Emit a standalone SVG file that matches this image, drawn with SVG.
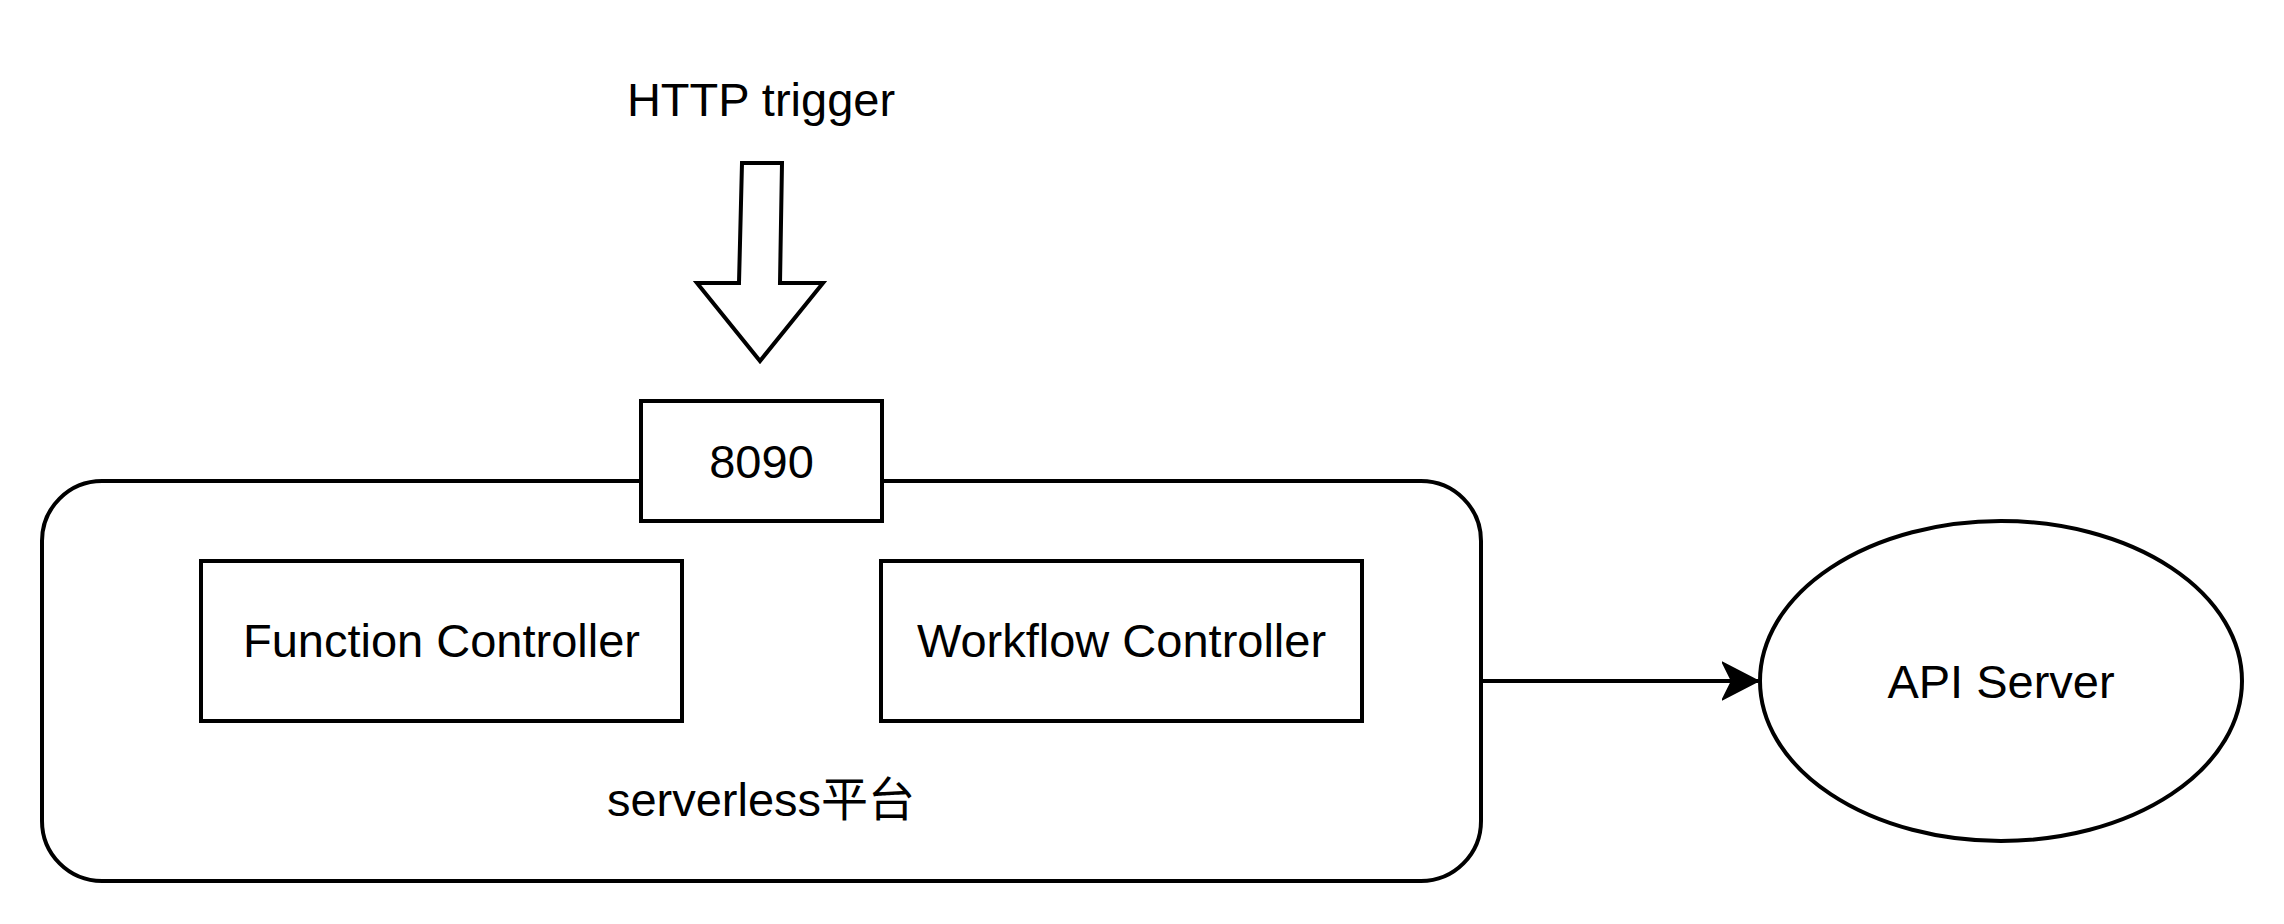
<svg xmlns="http://www.w3.org/2000/svg" width="2284" height="924" viewBox="0 0 2284 924">
<style>
.s{fill:#fff;stroke:#000;stroke-width:4}
.t{font-family:"Liberation Sans",Arial,"Noto Sans CJK SC",sans-serif;font-size:47px;fill:#000;text-anchor:middle}
.c{fill:none;stroke:#000;stroke-width:4}
</style>
<defs>
<marker id="arr" markerUnits="userSpaceOnUse" markerWidth="40" markerHeight="40" viewBox="0 0 40 40" refX="36" refY="20" orient="auto">
<path d="M1,2 L36,20 L1,38 L10,20 Z" fill="#000" stroke="#000" stroke-width="2"/>
</marker>
</defs>
<rect width="2284" height="924" fill="#fff"/>
<g id="http-trigger">
<text class="t" x="761" y="116">HTTP trigger</text>
<polygon class="s" points="742,163 782,163 780,283 823,283 760,361 697,283 739,283"/>
</g>
<g id="serverless">
<rect class="s" x="42" y="481" width="1439" height="400" rx="60" ry="60"/>
<text class="t" x="761" y="816">serverless平台</text>
</g>
<g id="port-8090">
<rect class="s" x="641" y="401" width="241" height="120"/>
<text class="t" x="761.5" y="478">8090</text>
</g>
<g id="function-controller">
<rect class="s" x="201" y="561" width="481" height="160"/>
<text class="t" x="441.5" y="657">Function Controller</text>
</g>
<g id="workflow-controller">
<rect class="s" x="881" y="561" width="481" height="160"/>
<text class="t" x="1121.5" y="657">Workflow Controller</text>
</g>
<g id="api-server">
<ellipse class="s" cx="2001" cy="681" rx="241" ry="160"/>
<text class="t" x="2001" y="698">API Server</text>
</g>
<g id="connectors">
<path class="c" d="M1481,681 L1758,681" marker-end="url(#arr)"/>
</g>
</svg>
